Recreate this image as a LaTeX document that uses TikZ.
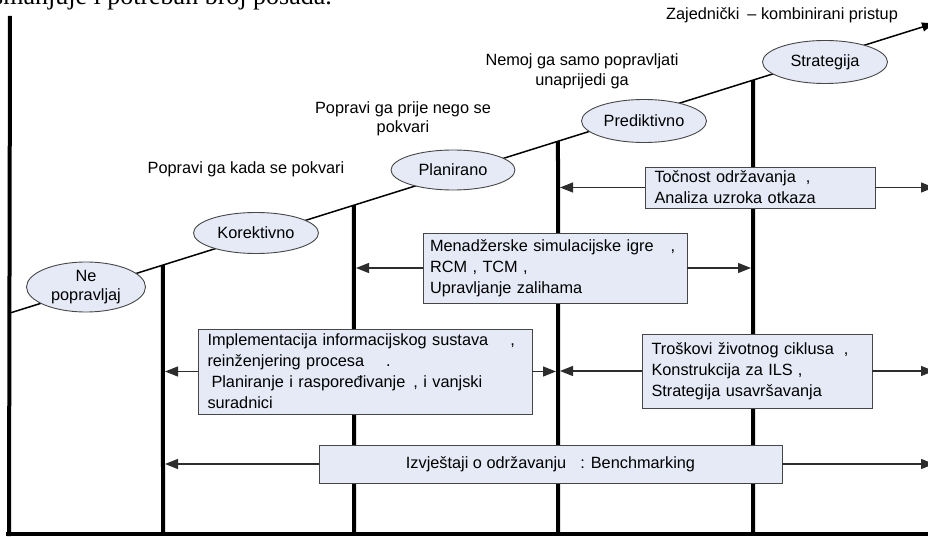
\documentclass[tikz,border=0pt]{standalone}
\usepackage{fontspec}
\setmainfont{Liberation Sans}
\newfontfamily\bodyserif{Liberation Serif}
\usetikzlibrary{arrows.meta,shapes.geometric,calc}

\definecolor{phasefill}{RGB}{230,234,246}
\definecolor{edgegray}{RGB}{70,70,70}
\definecolor{linkgray}{RGB}{45,45,45}

\begin{document}
\begin{tikzpicture}[x=1pt,y=-1pt,
  every node/.style={font=\fontsize{16.3}{19.5}\selectfont, inner sep=0pt},
  phase/.style={ellipse, draw=edgegray, line width=0.9pt, fill=phasefill,
    minimum width=125, minimum height=42, align=center},
  infobox/.style={rectangle, draw=edgegray, line width=0.9pt, fill=phasefill,
    align=left, inner xsep=9.5pt, font=\fontsize{16.3}{21}\selectfont},
  divider/.style={line width=4pt},
  axisline/.style={line width=4pt},
  trend/.style={line width=1.5pt, -{Triangle[length=12pt,width=9pt]}},
  conn/.style={draw=linkgray, line width=1.3pt, -{Triangle[length=13pt,width=10pt]}},
  label/.style={align=center}
]
\useasboundingbox (0,0) rectangle (928,537);

% fragment of the surrounding text line
\node[anchor=base east, font=\bodyserif\fontsize{26}{26}\selectfont] (frag) at (332,4.5)
  {smanjuje i potreban broj posada.};

% axes
\coordinate (ytop) at (10,16);
\coordinate (ybot) at (9,536);
\coordinate (xl) at (6,534);
\coordinate (xr) at (935,534);
\draw[axisline] (ytop) -- (ybot);
\draw[axisline] (xl) -- (xr);

% rising maturity line
\coordinate (s0) at (10,313);
\coordinate (s1) at (934,23.4);
\draw[trend] (s0) -- (s1);

% phase dividers
\foreach \name/\xx in {v1/163, v2/354, v3/558, v4/753} {
  \coordinate (\name t) at ($(s0)!{(\xx-10)/924}!(s1)$);
  \coordinate (\name b) at (\xx,534);
  \draw[divider] (\name t) -- (\name b);
}

% phases
\node[phase, minimum width=119, minimum height=50] (ne) at (86,287) {Ne\\popravljaj};
\node[phase, minimum height=41] (kor) at (256,233) {Korektivno};
\node[phase, minimum width=124, minimum height=40] (plan) at (453,170) {Planirano};
\node[phase, minimum height=43] (pred) at (644,121) {Prediktivno};
\node[phase, minimum height=43] (strat) at (825,62) {Strategija};

% captions
\node[anchor=base] (capkor) at (246,174) {Popravi ga kada se pokvari};
\node[label] (capplan) at (403,119) {Popravi ga prije nego se\\pokvari};
\node[label] (cappred) at (582,71.5) {Nemoj ga samo popravljati\\unaprijedi ga};
\node[anchor=base] (capstrat) at (782,20) {Zajednički\kern8pt– kombinirani pristup};

% activity boxes
\node[infobox, text width=211, minimum height=41] (boxA) at (760,187.5)
  {Točnost održavanja\kern10pt,\\Analiza uzroka otkaza};
\node[infobox, inner xsep=7pt, text width=250, minimum height=70] (boxB) at (555,268)
  {Menadžerske simulacijske igre\kern17pt,\\RCM , TCM ,\\Upravljanje zalihama};
\node[infobox, text width=315, minimum height=85] (boxC) at (365,371.5)
  {Implementacija informacijskog sustava\kern22pt,\\reinženjering procesa\kern22pt.\\\hspace*{4pt}Planiranje i raspoređivanje\kern8pt, i vanjski\\suradnici};
\node[infobox, text width=211, minimum height=74] (boxD) at (757,371)
  {Troškovi životnog ciklusa\kern10pt,\\Konstrukcija za ILS\kern5pt,\\Strategija usavršavanja};
\node[infobox, align=center, minimum width=463, minimum height=38] (boxE) at (550.5,464)
  {Izvještaji o održavanju\kern14pt: Benchmarking};

% right margin target
\coordinate (edge) at (934,0);

% connectors
\draw[conn, shorten >=2pt] (boxA.west) -- (boxA.west -| v3b);
\draw[conn] (boxA.east) -- (boxA.east -| edge);
\draw[conn, shorten >=2pt] (boxB.west) -- (boxB.west -| v2b);
\draw[conn, shorten >=2pt] (boxB.east) -- (boxB.east -| v4b);
\draw[conn, shorten >=2pt] (boxC.west) -- (boxC.west -| v1b);
\draw[conn, shorten >=2pt] (boxC.east) -- (boxC.east -| v3b);
\draw[conn, shorten >=2pt] (boxD.west) -- (boxD.west -| v3b);
\draw[conn] (boxD.east) -- (boxD.east -| edge);
\draw[conn, shorten >=2pt] (boxE.west) -- (boxE.west -| v1b);
\draw[conn] (boxE.east) -- (boxE.east -| edge);
\end{tikzpicture}
\end{document}
